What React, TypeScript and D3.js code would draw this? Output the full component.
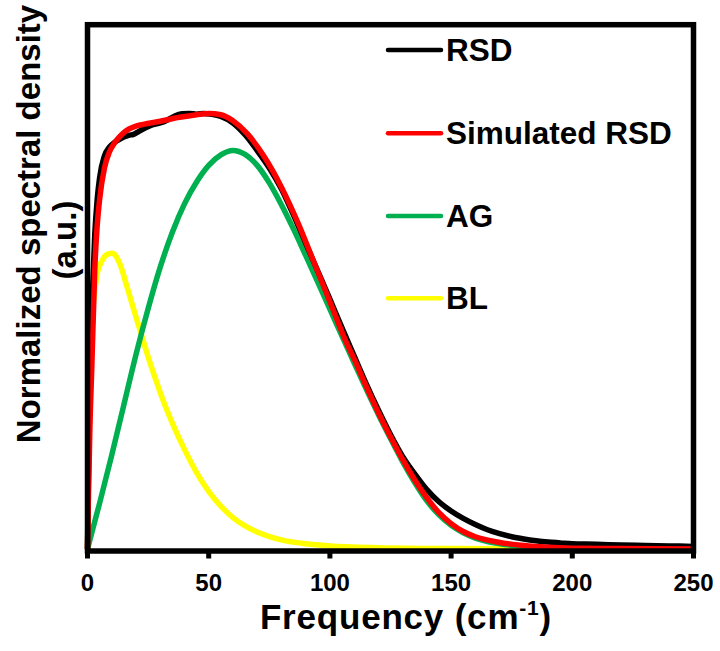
import React from "react";
import * as d3 from "d3";

// ---- data ----
const rsdFreq = [0, 0.5, 1, 2, 3, 4, 5, 7, 9, 11, 13, 15, 17, 19, 21, 24, 27, 30, 33, 36, 39, 42, 45, 48, 51, 55, 60, 65, 70, 75, 80, 85, 90, 95, 100, 105, 110, 115, 120, 125, 130, 135, 140, 145, 150, 155, 160, 165, 170, 175, 180, 185, 190, 195, 200, 210, 220, 230, 240, 250];
const rsdVal = [0, 0.22, 0.38, 0.58, 0.72, 0.8, 0.85, 0.9, 0.92, 0.93, 0.937, 0.943, 0.947, 0.949, 0.955, 0.964, 0.971, 0.975, 0.982, 0.991, 0.996, 0.997, 0.995, 0.997, 0.995, 0.99, 0.975, 0.948, 0.912, 0.872, 0.824, 0.764, 0.7, 0.636, 0.572, 0.506, 0.442, 0.378, 0.318, 0.262, 0.212, 0.172, 0.136, 0.108, 0.087, 0.07, 0.056, 0.044, 0.035, 0.028, 0.023, 0.019, 0.016, 0.014, 0.012, 0.011, 0.009, 0.008, 0.007, 0.006];

const simFreq = [0, 0.5, 1, 1.8, 3, 4, 5, 7, 9, 11, 13, 15, 17, 20, 23, 30, 38, 45, 50, 55, 60, 66, 73, 80, 87, 93, 100, 107, 110, 115, 120, 125, 130, 135, 140, 145, 150, 155, 160, 170, 180, 190, 200, 220, 250];
const simVal = [0, 0.15, 0.28, 0.42, 0.64, 0.74, 0.8, 0.872, 0.908, 0.928, 0.942, 0.953, 0.961, 0.968, 0.972, 0.979, 0.988, 0.994, 0.997, 0.994, 0.98, 0.95, 0.897, 0.828, 0.744, 0.662, 0.566, 0.47, 0.435, 0.372, 0.312, 0.257, 0.205, 0.158, 0.117, 0.083, 0.058, 0.04, 0.028, 0.015, 0.008, 0.004, 0.002, 0.001, 0];

const agFreq = [0, 5, 10, 15, 20, 25, 30, 35, 40, 45, 50, 55, 60, 65, 70, 75, 80, 85, 90, 95, 100, 105, 110, 115, 120, 125, 130, 135, 140, 145, 150, 155, 160, 165, 170, 180, 190, 200, 220, 250];
const agVal = [0, 0.105, 0.215, 0.33, 0.445, 0.55, 0.645, 0.725, 0.79, 0.84, 0.878, 0.902, 0.912, 0.903, 0.878, 0.838, 0.788, 0.732, 0.672, 0.611, 0.549, 0.487, 0.426, 0.366, 0.308, 0.253, 0.2, 0.152, 0.11, 0.078, 0.054, 0.037, 0.025, 0.017, 0.012, 0.006, 0.003, 0.001, 0, 0];

const blFreq = [0, 0.5, 1, 2, 3, 4, 6, 8, 10, 11, 12, 13, 14, 16, 18, 20, 22, 25, 28, 30, 35, 40, 45, 50, 55, 60, 65, 70, 80, 90, 100, 120, 150, 200, 250];
const blVal = [0, 0.2, 0.36, 0.53, 0.59, 0.63, 0.66, 0.674, 0.677, 0.675, 0.668, 0.657, 0.643, 0.606, 0.568, 0.531, 0.495, 0.44, 0.39, 0.358, 0.288, 0.228, 0.175, 0.132, 0.098, 0.072, 0.053, 0.039, 0.021, 0.012, 0.007, 0.003, 0.001, 0, 0];

const xTicks = [0, 50, 100, 150, 200, 250];
const legendLabels = ["RSD", "Simulated RSD", "AG", "BL"];
const seriesColors = ["#000000", "#FF0000", "#00B050", "#FFFF00"];

const FONT = "'Liberation Sans', Arial, sans-serif";

export default function App() {
  const left = 87.5, right = 693.5, top = 24.7, bottom = 549;
  const x = d3.scaleLinear().domain([0, 250]).range([left, right]);
  const y = d3.scaleLinear().domain([0, 1.2]).range([bottom, top]);
  const line = d3
    .line<[number, number]>()
    .x((d) => x(d[0]))
    .y((d) => y(d[1]))
    .curve(d3.curveMonotoneX);

  const series = [
    { f: rsdFreq, v: rsdVal },
    { f: simFreq, v: simVal },
    { f: agFreq, v: agVal },
    { f: blFreq, v: blVal },
  ];
  // drawing order: yellow, green, black, red
  const order = [3, 2, 0, 1];

  const legendY = [50, 133.3, 216, 298.3];

  return (
    <svg
      width={720}
      height={651}
      style={{ position: "absolute", left: 0, top: 0, background: "#fff" }}
      fontFamily={FONT}
      fontWeight="bold"
    >
      <rect x={0} y={0} width={720} height={651} fill="#fff" />
      {order.map((i) => (
        <path
          key={i}
          d={line(series[i].f.map((f, k) => [f, series[i].v[k]] as [number, number])) || ""}
          fill="none"
          stroke={seriesColors[i]}
          strokeWidth={5.5}
          strokeLinejoin="round"
        />
      ))}
      {/* frame */}
      <rect
        x={left}
        y={top}
        width={right - left}
        height={551 - top}
        fill="none"
        stroke="#000"
        strokeWidth={5.5}
      />
      {/* x ticks */}
      {xTicks.map((t) => (
        <g key={t}>
          <line x1={x(t)} x2={x(t)} y1={551} y2={558.5} stroke="#000" strokeWidth={5} />
          <text x={x(t)} y={591} textAnchor="middle" fontSize={24} fill="#000">
            {t}
          </text>
        </g>
      ))}
      {/* x title */}
      <text x={406} y={629} textAnchor="middle" fontSize={35} letterSpacing={0.8} fill="#000">
        Frequency (cm
        <tspan fontSize={21} dy={-14}>-1</tspan>
        <tspan dy={14}>)</tspan>
      </text>
      {/* y title */}
      <text transform="translate(40,224) rotate(-90)" textAnchor="middle" fontSize={33} fill="#000">
        Normalized spectral density
      </text>
      <text transform="translate(76,240) rotate(-90)" textAnchor="middle" fontSize={33} fill="#000">
        (a.u.)
      </text>
      {/* legend */}
      {legendLabels.map((lab, i) => (
        <g key={lab}>
          <line
            x1={388}
            x2={441}
            y1={legendY[i]}
            y2={legendY[i]}
            stroke={seriesColors[i]}
            strokeWidth={4.5}
            strokeLinecap="round"
          />
          <text x={446} y={legendY[i] + 11} fontSize={31.5} fill="#000">
            {lab}
          </text>
        </g>
      ))}
    </svg>
  );
}
